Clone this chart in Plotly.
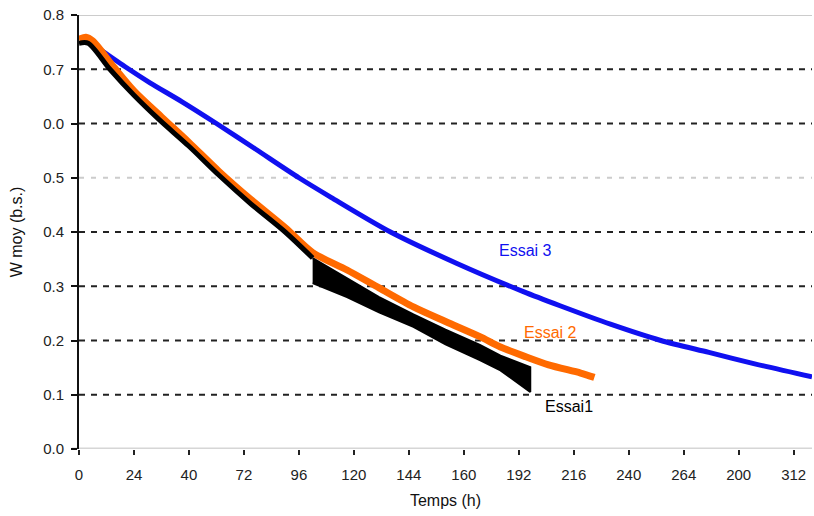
import plotly.graph_objects as go

# Drying curves: mean moisture content (dry basis) versus time
# Essai 1 - smooth part, then a noisy band (upper / lower envelope)
e1_t = [0, 4, 13.5, 24, 35, 48, 61, 75, 90, 102]
e1_w = [0.748, 0.748, 0.70, 0.652, 0.607, 0.558, 0.505, 0.452, 0.40, 0.352]
e1_band_t = [102, 117, 131, 146, 160, 175, 184, 197]
e1_band_hi = [0.352, 0.315, 0.28, 0.248, 0.22, 0.192, 0.172, 0.151]
e1_band_lo = [0.306, 0.28, 0.252, 0.225, 0.193, 0.164, 0.145, 0.105]

# Essai 2
e2_t = [0, 3, 6, 15, 24, 36, 48, 61, 75, 90, 102, 117, 131, 146, 160, 175, 184, 195, 205, 219, 225]
e2_w = [0.755, 0.759, 0.752, 0.705, 0.66, 0.612, 0.565, 0.512, 0.46, 0.408, 0.362, 0.33, 0.297,
        0.262, 0.235, 0.207, 0.188, 0.17, 0.155, 0.14, 0.132]

# Essai 3
e3_t = [8, 20, 31, 45, 60, 77, 96, 110, 136, 165, 194, 210, 232, 254, 275, 295, 320]
e3_w = [0.74, 0.705, 0.675, 0.64, 0.60, 0.553, 0.50, 0.464, 0.40, 0.342, 0.29, 0.264,
        0.23, 0.20, 0.178, 0.157, 0.133]

# Axis ticks
x_ticks = [0, 24, 48, 72, 96, 120, 144, 168, 192, 216, 240, 264, 288, 312]
x_labels = ["0", "24", "40", "72", "96", "120", "144", "160", "192", "216", "240", "264", "200", "312"]
y_ticks = [0.0, 0.1, 0.2, 0.3, 0.4, 0.5, 0.6, 0.7, 0.8]
y_labels = ["0.0", "0.1", "0.2", "0.3", "0.4", "0.5", "0.0", "0.7", "0.8"]
dashed_levels = [0.1, 0.2, 0.3, 0.4, 0.6, 0.7]
dotted_levels = [0.5]

# Curve labels
labels = ["Essai 3", "Essai 2", "Essai1"]
label_t = [195, 206, 214]
label_w = [0.365, 0.214, 0.079]
colors = ["#1010f0", "#ff6a00", "#000000"]

font = "Liberation Sans, Arial, sans-serif"

fig = go.Figure()

fig.add_trace(go.Scatter(x=e3_t, y=e3_w, mode="lines",
                         line=dict(color=colors[0], width=5, shape="spline", smoothing=0.8),
                         hoverinfo="skip"))
fig.add_trace(go.Scatter(x=e2_t, y=e2_w, mode="lines",
                         line=dict(color=colors[1], width=7, shape="spline", smoothing=0.8),
                         hoverinfo="skip"))
fig.add_trace(go.Scatter(x=e1_t, y=e1_w, mode="lines",
                         line=dict(color=colors[2], width=5, shape="spline", smoothing=0.8),
                         hoverinfo="skip"))
band_x = e1_band_t + e1_band_t[::-1]
band_y = e1_band_hi + e1_band_lo[::-1]
fig.add_trace(go.Scatter(x=band_x, y=band_y, mode="lines", fill="toself", fillcolor="#000000",
                         line=dict(color="#000000", width=2), hoverinfo="skip"))

shapes = []
for lv in dashed_levels:
    shapes.append(dict(type="line", xref="paper", x0=0, x1=1, yref="y", y0=lv, y1=lv,
                       line=dict(color="#222222", width=2, dash="6px,6px"), layer="below"))
for lv in dotted_levels:
    shapes.append(dict(type="line", xref="paper", x0=0, x1=1, yref="y", y0=lv, y1=lv,
                       line=dict(color="#cccccc", width=2, dash="5px,7px"), layer="below"))
# top frame line and light bottom axis line
shapes.append(dict(type="line", xref="paper", x0=0, x1=1, yref="y", y0=0.8, y1=0.8,
                   line=dict(color="#bbbbbb", width=1.5), layer="below"))
shapes.append(dict(type="line", xref="paper", x0=-0.01, x1=1, yref="y", y0=0.0, y1=0.0,
                   line=dict(color="#d6d6d6", width=3), layer="below"))

annotations = []
for txt, t, w, c in zip(labels, label_t, label_w, colors):
    annotations.append(dict(x=t, y=w, xref="x", yref="y", text=txt, showarrow=False,
                            font=dict(family=font, size=16, color=c)))

fig.update_layout(
    width=814, height=516,
    margin=dict(l=79, r=2, t=15, b=67),
    paper_bgcolor="white", plot_bgcolor="white",
    showlegend=False,
    shapes=shapes,
    annotations=annotations,
    xaxis=dict(range=[0, 320], tickmode="array", tickvals=x_ticks, ticktext=x_labels,
               showgrid=False, zeroline=False, showline=False,
               ticks="outside", ticklen=5, tickwidth=2, tickcolor="#222222",
               ticklabelstandoff=7,
               tickfont=dict(family=font, size=15, color="#222222"),
               title=dict(text="Temps (h)", font=dict(family=font, size=16, color="#111111"), standoff=12)),
    yaxis=dict(range=[0, 0.8], tickmode="array", tickvals=y_ticks, ticktext=y_labels,
               showgrid=False, zeroline=False, showline=True, linecolor="#111111", linewidth=2,
               ticks="outside", ticklen=6, tickwidth=2, tickcolor="#111111",
               ticklabelstandoff=4,
               tickfont=dict(family=font, size=15, color="#222222"),
               title=dict(text="W moy (b.s.)", font=dict(family=font, size=16, color="#111111"), standoff=17)),
)

fig.write_html("out.html")
